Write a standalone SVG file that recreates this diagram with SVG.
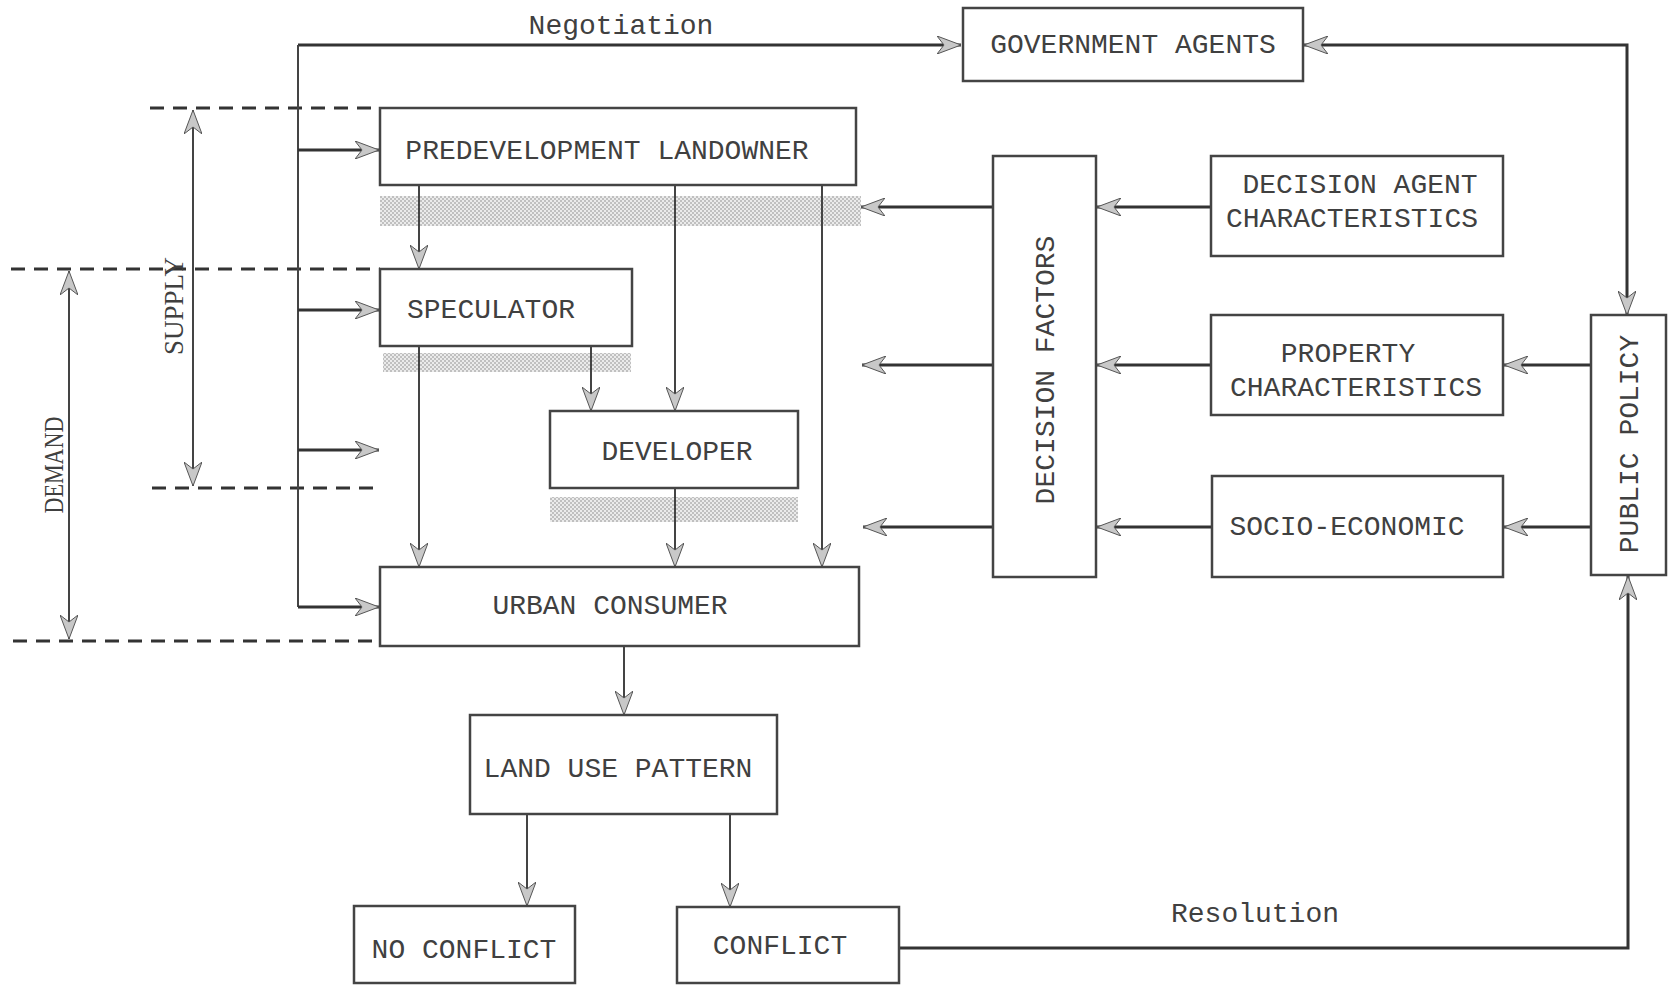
<svg xmlns="http://www.w3.org/2000/svg" width="1668" height="985" viewBox="0 0 1668 985">
<style>
.box{fill:#fff;stroke:#444;stroke-width:2.5}
.t{font-family:"Liberation Mono","Courier New",monospace;font-size:28px;fill:#404040}
.s{font-family:"Liberation Serif","Times New Roman",serif;font-size:27px;fill:#404040}
.ln{fill:none;stroke:#444;stroke-width:2}
.thick{fill:none;stroke:#333;stroke-width:3}
.arr{marker-end:url(#ah)}
.dash{fill:none;stroke:#333;stroke-width:3;stroke-dasharray:14 9}
.band{fill:url(#dots)}
</style>
<defs>
<marker id="ah" viewBox="0 0 24 18" refX="24" refY="9" markerWidth="24" markerHeight="18" markerUnits="userSpaceOnUse" orient="auto-start-reverse">
<path d="M0,0 L24,9 L0,18 L7,9 Z" fill="#c8c8c8" stroke="#555" stroke-width="1"/>
</marker>
<pattern id="dots" width="4" height="4" patternUnits="userSpaceOnUse">
<rect width="4" height="4" fill="#ebebeb"/>
<circle cx="1" cy="1" r="0.75" fill="#808080"/>
<circle cx="3" cy="3" r="0.75" fill="#808080"/>
</pattern>
</defs>
<rect width="1668" height="985" fill="#fff"/>

<g id="connectors">
<!-- shaded bands -->
<rect class="band" x="380" y="196" width="481" height="30"/>
<rect class="band" x="383" y="353" width="248" height="19"/>
<rect class="band" x="550" y="497" width="248" height="25"/>
<!-- dashed supply/demand bounds -->
<line class="dash" x1="150" y1="108" x2="380" y2="108"/>
<line class="dash" x1="11" y1="269" x2="380" y2="269"/>
<line class="dash" x1="152" y1="488" x2="380" y2="488"/>
<line class="dash" x1="13" y1="641" x2="380" y2="641"/>
<!-- supply / demand double arrows -->
<path class="ln" d="M193,110 V486" marker-start="url(#ah)" marker-end="url(#ah)"/>
<path class="ln" d="M69,271 V639" marker-start="url(#ah)" marker-end="url(#ah)"/>
<!-- negotiation trunk -->
<path class="thick arr" d="M298,45 H961"/>
<path class="ln" d="M298,45 V607"/>
<path class="thick arr" d="M298,150 H379"/>
<path class="thick arr" d="M298,310 H379"/>
<path class="thick arr" d="M298,450 H379"/>
<path class="thick arr" d="M298,607 H379"/>
<!-- government agents / public policy -->
<path class="thick" d="M1304,45 H1627 V315" marker-start="url(#ah)" marker-end="url(#ah)"/>
<!-- resolution -->
<path class="thick arr" d="M899,948 H1628 V576"/>
<!-- flows among actors -->
<path class="ln arr" d="M419,185 V269"/>
<path class="ln arr" d="M675,185 V411"/>
<path class="ln arr" d="M822,185 V567"/>
<path class="ln arr" d="M419,346 V567"/>
<path class="ln arr" d="M591,346 V411"/>
<path class="ln arr" d="M675,488 V567"/>
<path class="ln arr" d="M624,646 V715"/>
<path class="ln arr" d="M527,814 V906"/>
<path class="ln arr" d="M730,814 V907"/>
<!-- decision factors outputs -->
<path class="thick arr" d="M993,207 H861"/>
<path class="thick arr" d="M993,365 H862"/>
<path class="thick arr" d="M993,527 H863"/>
<!-- inputs to decision factors -->
<path class="thick arr" d="M1211,207 H1097"/>
<path class="thick arr" d="M1211,365 H1097"/>
<path class="thick arr" d="M1212,527 H1097"/>
<!-- public policy to characteristics -->
<path class="thick arr" d="M1591,365 H1504"/>
<path class="thick arr" d="M1591,527 H1504"/>
</g>

<g id="label-negotiation"><text class="t" x="621" y="34" text-anchor="middle">Negotiation</text></g>
<g id="label-resolution"><text class="t" x="1255" y="922" text-anchor="middle">Resolution</text></g>
<g id="label-supply"><text class="s" transform="translate(183,306) rotate(-90)" text-anchor="middle">SUPPLY</text></g>
<g id="label-demand"><text class="s" transform="translate(63,465) rotate(-90)" text-anchor="middle" textLength="97" lengthAdjust="spacingAndGlyphs">DEMAND</text></g>

<g id="government-agents">
<rect class="box" x="963" y="8" width="340" height="73"/>
<text class="t" x="1133" y="53" text-anchor="middle">GOVERNMENT AGENTS</text>
</g>
<g id="predevelopment-landowner">
<rect class="box" x="380" y="108" width="476" height="77"/>
<text class="t" x="607" y="159" text-anchor="middle">PREDEVELOPMENT LANDOWNER</text>
</g>
<g id="speculator">
<rect class="box" x="380" y="269" width="252" height="77"/>
<text class="t" x="491" y="318" text-anchor="middle">SPECULATOR</text>
</g>
<g id="developer">
<rect class="box" x="550" y="411" width="248" height="77"/>
<text class="t" x="677" y="460" text-anchor="middle">DEVELOPER</text>
</g>
<g id="urban-consumer">
<rect class="box" x="380" y="567" width="479" height="79"/>
<text class="t" x="610" y="614" text-anchor="middle">URBAN CONSUMER</text>
</g>
<g id="land-use-pattern">
<rect class="box" x="470" y="715" width="307" height="99"/>
<text class="t" x="618" y="777" text-anchor="middle">LAND USE PATTERN</text>
</g>
<g id="no-conflict">
<rect class="box" x="354" y="906" width="221" height="77"/>
<text class="t" x="464" y="958" text-anchor="middle">NO CONFLICT</text>
</g>
<g id="conflict">
<rect class="box" x="677" y="907" width="222" height="76"/>
<text class="t" x="780" y="954" text-anchor="middle">CONFLICT</text>
</g>
<g id="decision-factors">
<rect class="box" x="993" y="156" width="103" height="421"/>
<text class="t" transform="translate(1054,370) rotate(-90)" text-anchor="middle">DECISION FACTORS</text>
</g>
<g id="decision-agent-characteristics">
<rect class="box" x="1211" y="156" width="292" height="100"/>
<text class="t" x="1360" y="193" text-anchor="middle">DECISION AGENT</text>
<text class="t" x="1352" y="227" text-anchor="middle">CHARACTERISTICS</text>
</g>
<g id="property-characteristics">
<rect class="box" x="1211" y="315" width="292" height="100"/>
<text class="t" x="1348" y="362" text-anchor="middle">PROPERTY</text>
<text class="t" x="1356" y="396" text-anchor="middle">CHARACTERISTICS</text>
</g>
<g id="socio-economic">
<rect class="box" x="1212" y="476" width="291" height="101"/>
<text class="t" x="1347" y="535" text-anchor="middle">SOCIO-ECONOMIC</text>
</g>
<g id="public-policy">
<rect class="box" x="1591" y="315" width="75" height="260"/>
<text class="t" transform="translate(1638,444) rotate(-90)" text-anchor="middle">PUBLIC POLICY</text>
</g>
</svg>
